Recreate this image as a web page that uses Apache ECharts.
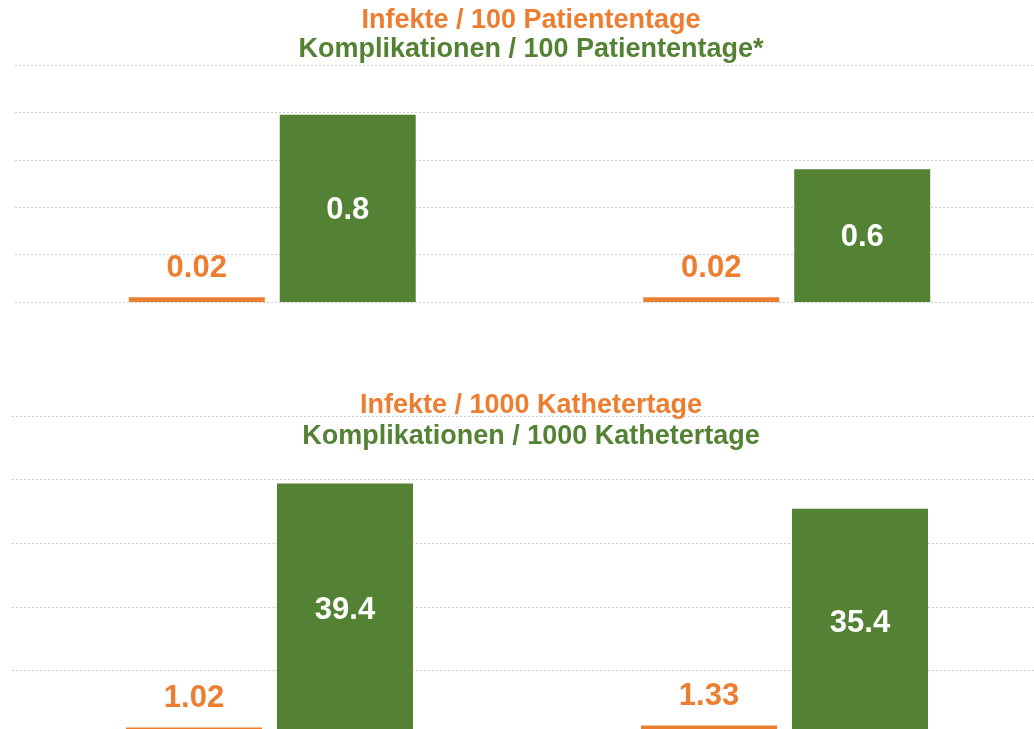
<!DOCTYPE html>
<html>
<head>
<meta charset="utf-8">
<script src="https://cdn.jsdelivr.net/npm/echarts@6/dist/echarts.min.js"></script>
<style>
    html, body { margin: 0; padding: 0; background: #fff; }
    #chart { width: 1034px; height: 729px; }
</style>
</head>
<body>
<div id="chart"></div>
<script>
// two groups per panel (no visible category labels)
const categories = ['A', 'B']

// upper panel: per 100 patient days
const infectPerPatientDays = [0.02, 0.02]
const complPerPatientDays = [0.79, 0.56]

// lower panel: per 1000 catheter days
const infectPerCatheterDays = [1.02, 1.33]
const complPerCatheterDays = [39.4, 35.4]

const titleLines = [
    'Infekte / 100 Patiententage',
    'Komplikationen / 100 Patiententage*',
    'Infekte / 1000 Kathetertage',
    'Komplikationen / 1000 Kathetertage'
]

const ORANGE = '#ED7D31'
const GREEN = '#548235'
const FONT = 'Liberation Sans, Arial, sans-serif'

const myEcharts = echarts.init(document.getElementById('chart'))

const makeTitle = (text, color, top) => ({
    text: text,
    left: 531,
    top: top,
    textAlign: 'center',
    padding: 0,
    textStyle: {
        color: color,
        fontFamily: FONT,
        fontSize: 27,
        fontWeight: 'bold',
        lineHeight: 30
    }
})

const splitLine = {
    show: true,
    lineStyle: { color: '#cccccc', width: 1, type: [2, 2] }
}

const makeXAxis = gridIndex => ({
    type: 'category',
    gridIndex: gridIndex,
    data: categories,
    axisLine: { show: false },
    axisTick: { show: false },
    axisLabel: { show: false }
})

const makeYAxis = (gridIndex, max, interval) => ({
    type: 'value',
    gridIndex: gridIndex,
    min: 0,
    max: max,
    interval: interval,
    axisLine: { show: false },
    axisTick: { show: false },
    axisLabel: { show: false },
    splitLine: splitLine
})

const orangeLabel = {
    show: true,
    position: 'top',
    distance: 14,
    color: ORANGE,
    fontFamily: FONT,
    fontSize: 31,
    fontWeight: 'bold',
    lineHeight: 30
}

const greenLabel = {
    show: true,
    position: 'inside',
    offset: [0, 2],
    color: '#ffffff',
    fontFamily: FONT,
    fontSize: 31,
    fontWeight: 'bold'
}

const option = {
    backgroundColor: '#ffffff',
    animation: false,
    title: [
        makeTitle(titleLines[0], ORANGE, 6),
        makeTitle(titleLines[1], GREEN, 35),
        makeTitle(titleLines[2], ORANGE, 391),
        makeTitle(titleLines[3], GREEN, 422)
    ],
    // grids run past the right/bottom edge of the picture
    grid: [
        { left: 15, width: 1029, top: 65, height: 237, outerBoundsMode: 'none' },
        { left: 12, width: 1030, top: 416, height: 318, outerBoundsMode: 'none' }
    ],
    xAxis: [makeXAxis(0), makeXAxis(1)],
    yAxis: [makeYAxis(0, 1, 0.2), makeYAxis(1, 50, 10)],
    series: [
        {
            type: 'bar',
            xAxisIndex: 0,
            yAxisIndex: 0,
            data: infectPerPatientDays,
            barWidth: 136,
            barGap: '11%',
            itemStyle: { color: ORANGE },
            label: { ...orangeLabel, formatter: p => p.value.toFixed(2) }
        },
        {
            type: 'bar',
            xAxisIndex: 0,
            yAxisIndex: 0,
            data: complPerPatientDays,
            barWidth: 136,
            barGap: '11%',
            itemStyle: { color: GREEN },
            label: { ...greenLabel, formatter: p => p.value.toFixed(1) }
        },
        {
            type: 'bar',
            xAxisIndex: 1,
            yAxisIndex: 1,
            data: infectPerCatheterDays,
            barWidth: 136,
            barGap: '11%',
            itemStyle: { color: ORANGE },
            label: { ...orangeLabel, formatter: p => p.value.toFixed(2) }
        },
        {
            type: 'bar',
            xAxisIndex: 1,
            yAxisIndex: 1,
            data: complPerCatheterDays,
            barWidth: 136,
            barGap: '11%',
            itemStyle: { color: GREEN },
            label: { ...greenLabel, formatter: p => p.value.toFixed(1) }
        }
    ]
}

myEcharts.setOption(option)
</script>
</body>
</html>
